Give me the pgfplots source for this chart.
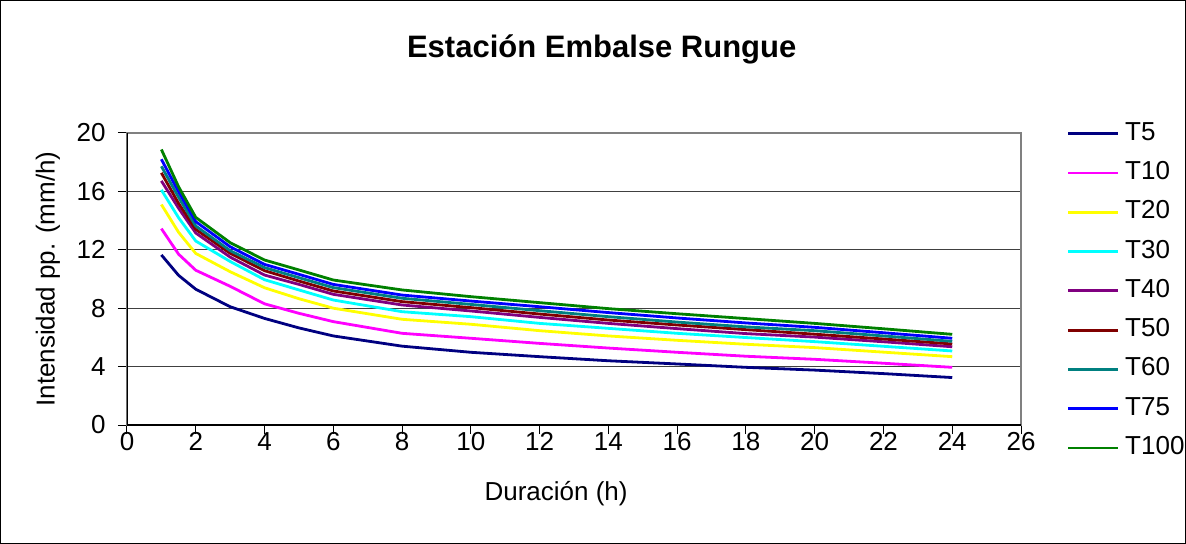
\documentclass[border=0pt]{standalone}
\usepackage{fontspec}
\setmainfont{Liberation Sans}
\usepackage{pgfplots}
\pgfplotsset{compat=1.18}
\usepackage{pgfplotstable}

\definecolor{cT5}{RGB}{0,0,128}
\definecolor{cT10}{RGB}{255,0,255}
\definecolor{cT20}{RGB}{255,255,0}
\definecolor{cT30}{RGB}{0,255,255}
\definecolor{cT40}{RGB}{128,0,128}
\definecolor{cT50}{RGB}{128,0,0}
\definecolor{cT60}{RGB}{0,128,128}
\definecolor{cT75}{RGB}{0,0,255}
\definecolor{cT100}{RGB}{0,128,0}

\pgfplotstableread{
x    T5    T10   T20   T30   T40   T50   T60   T75   T100
1    11.65 13.45 15.10 16.10 16.72 17.27 17.72 18.20 18.87
1.5  10.25 11.70 13.20 14.20 14.85 15.18 15.60 15.98 16.32
2    9.30  10.60 11.75 12.60 13.15 13.40 13.63 13.93 14.22
3    8.10  9.50  10.50 11.20 11.50 11.76 11.94 12.21 12.49
4    7.30  8.30  9.40  9.95  10.27 10.57 10.78 11.00 11.30
5    6.65  7.65  8.65  9.25  9.63  9.86  10.09 10.32 10.62
6    6.10  7.08  8.00  8.56  8.95  9.18  9.41  9.63  9.93
8    5.40  6.28  7.24  7.76  8.22  8.45  8.68  8.90  9.25
10   4.98  5.94  6.90  7.42  7.81  8.04  8.26  8.49  8.79
12   4.68  5.59  6.46  6.96  7.37  7.60  7.83  8.10  8.38
14   4.40  5.27  6.10  6.62  6.96  7.19  7.42  7.70  7.97
16   4.18  4.98  5.80  6.28  6.60  6.85  7.05  7.33  7.62
18   3.95  4.71  5.53  5.99  6.26  6.53  6.72  6.99  7.29
20   3.76  4.50  5.30  5.71  6.02  6.22  6.46  6.69  6.96
22   3.52  4.23  4.99  5.39  5.70  5.89  6.10  6.32  6.59
24   3.25  3.95  4.68  5.07  5.36  5.55  5.73  5.94  6.21
}\idf

\begin{document}
\begin{tikzpicture}
\path[use as bounding box] (-127bp,-119bp) rectangle (1059bp,425bp);
\begin{axis}[
  at={(0,0)}, anchor=south west,
  scale only axis, width=894bp, height=292bp,
  xmin=0, xmax=26, ymin=0, ymax=20,
  xtick={0,2,...,26}, ytick={0,4,...,20},
  ymajorgrids, grid style={black!75, line width=1bp},
  axis lines=box, axis line style={black!50, line width=1.3bp},
  xtick pos=bottom, ytick pos=left,
  tick align=outside, major tick length=9bp,
  tick style={black, line width=1bp},
  /pgf/number format/assume math mode=true,
  tick label style={font=\fontsize{26bp}{30bp}\selectfont},
  yticklabel style={xshift=-9bp},
  xticklabel style={yshift=5bp},
  xlabel={Duración (h)}, ylabel={Intensidad pp. (mm/h)},
  label style={font=\fontsize{26bp}{30bp}\selectfont},
  xlabel style={at={(axis description cs:0.48,-0.236)}, anchor=center},
  ylabel style={at={(axis description cs:-0.0884,0.5)}, anchor=center},
  title={\bfseries Estación Embalse Rungue},
  title style={at={(axis description cs:0.531,1.267)}, anchor=center, font=\fontsize{31bp}{36bp}\selectfont},
  legend cell align=left,
  legend image code/.code={\path[draw=none, fill=none] (0bp,0bp) rectangle (50bp,10.4bp); \draw[#1, overlay] (0bp,-3bp) -- (50bp,-3bp);},
  legend style={draw=none, fill=none, at={(axis description cs:1,1)}, anchor=north west,
    xshift=47bp, yshift=13bp, inner sep=0pt, row sep=19.4bp,
    font=\fontsize{26bp}{30bp}\selectfont,
    nodes={inner sep=0pt, text height=19bp, text depth=0bp},
    /tikz/every odd column/.append style={column sep=7bp}},
  every axis plot/.append style={line width=2.8bp, line join=round, no markers},
]
\addplot[cT5, line width=2.8bp]   table[x=x,y=T5]   {\idf}; \addlegendentry{T5}
\addplot[cT10, line width=2.8bp]  table[x=x,y=T10]  {\idf}; \addlegendentry{T10}
\addplot[cT20, line width=2.8bp]  table[x=x,y=T20]  {\idf}; \addlegendentry{T20}
\addplot[cT30, line width=2.8bp]  table[x=x,y=T30]  {\idf}; \addlegendentry{T30}
\addplot[cT40, line width=2.8bp]  table[x=x,y=T40]  {\idf}; \addlegendentry{T40}
\addplot[cT50, line width=2.8bp]  table[x=x,y=T50]  {\idf}; \addlegendentry{T50}
\addplot[cT60, line width=2.8bp]  table[x=x,y=T60]  {\idf}; \addlegendentry{T60}
\addplot[cT75, line width=2.8bp]  table[x=x,y=T75]  {\idf}; \addlegendentry{T75}
\addplot[cT100, line width=2.8bp] table[x=x,y=T100] {\idf}; \addlegendentry{T100}
\draw[black, line width=1.3bp] (rel axis cs:0,1) -- (rel axis cs:0,0) -- (rel axis cs:1,0);
\end{axis}
\draw[black, line width=1bp] (-126.5bp,-118.5bp) rectangle (1058.5bp,424.5bp);
\end{tikzpicture}
\end{document}
